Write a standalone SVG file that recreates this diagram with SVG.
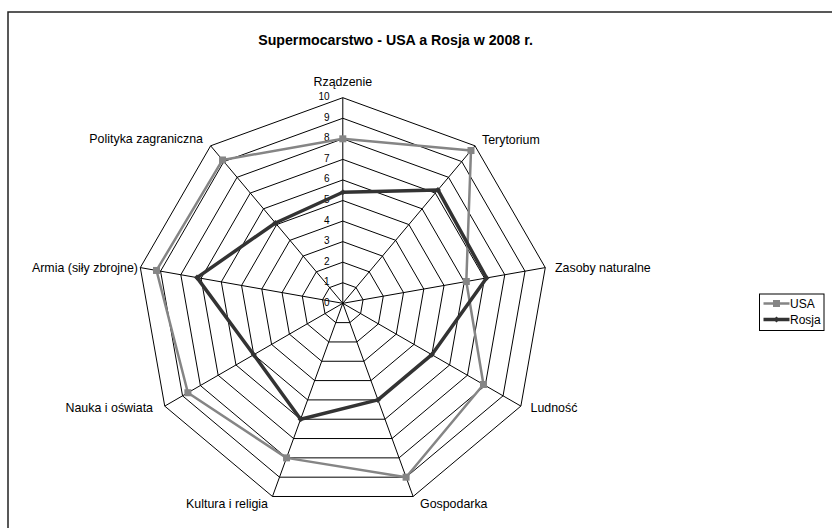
<svg xmlns="http://www.w3.org/2000/svg" width="832" height="528" viewBox="0 0 832 528">
<style>
text{font-family:"Liberation Sans",Arial,sans-serif;fill:#000}
.lbl{font-size:12.4px}
.num{font-size:10px;text-anchor:end}
.ring{fill:none;stroke:#000;stroke-width:1}
.usa{fill:none;stroke:#858585;stroke-width:2.5;stroke-linejoin:round}
.ros{fill:none;stroke:#333;stroke-width:3.5;stroke-linejoin:round}
.um{fill:#858585}
.rm{fill:#333}
</style>
<defs>
<rect id="sq" x="-3.5" y="-3.5" width="7" height="7" class="um"/>
<polygon id="dm" points="0,-3 3,0 0,3 -3,0" class="rm"/>
</defs>
<rect width="832" height="528" fill="#fff"/>
<path d="M8,528 V12 H832" fill="none" stroke="#222" stroke-width="1.5"/>
<text x="395.5" y="45" style="font-size:14.2px;font-weight:bold" text-anchor="middle">Supermocarstwo - USA a Rosja w 2008 r.</text>
<g id="grid" transform="translate(342.8,303.3)">
<polygon class="ring" points="0,-20.56 13.22,-15.75 20.25,-3.57 17.81,10.28 7.03,19.32 -7.03,19.32 -17.81,10.28 -20.25,-3.57 -13.22,-15.75"/>
<polygon class="ring" points="0,-41.12 26.43,-31.5 40.5,-7.14 35.61,20.56 14.06,38.64 -14.06,38.64 -35.61,20.56 -40.5,-7.14 -26.43,-31.5"/>
<polygon class="ring" points="0,-61.68 39.65,-47.25 60.74,-10.71 53.42,30.84 21.1,57.96 -21.1,57.96 -53.42,30.84 -60.74,-10.71 -39.65,-47.25"/>
<polygon class="ring" points="0,-82.24 52.86,-63 80.99,-14.28 71.22,41.12 28.13,77.28 -28.13,77.28 -71.22,41.12 -80.99,-14.28 -52.86,-63"/>
<polygon class="ring" points="0,-102.8 66.08,-78.75 101.24,-17.85 89.03,51.4 35.16,96.6 -35.16,96.6 -89.03,51.4 -101.24,-17.85 -66.08,-78.75"/>
<polygon class="ring" points="0,-123.36 79.29,-94.5 121.49,-21.42 106.83,61.68 42.19,115.92 -42.19,115.92 -106.83,61.68 -121.49,-21.42 -79.29,-94.5"/>
<polygon class="ring" points="0,-143.92 92.51,-110.25 141.73,-24.99 124.64,71.96 49.22,135.24 -49.22,135.24 -124.64,71.96 -141.73,-24.99 -92.51,-110.25"/>
<polygon class="ring" points="0,-164.48 105.73,-126 161.98,-28.56 142.44,82.24 56.26,154.56 -56.26,154.56 -142.44,82.24 -161.98,-28.56 -105.73,-126"/>
<polygon class="ring" points="0,-185.04 118.94,-141.75 182.23,-32.13 160.25,92.52 63.29,173.88 -63.29,173.88 -160.25,92.52 -182.23,-32.13 -118.94,-141.75"/>
<polygon class="ring" points="0,-205.6 132.16,-157.5 202.48,-35.7 178.06,102.8 70.32,193.2 -70.32,193.2 -178.06,102.8 -202.48,-35.7 -132.16,-157.5"/>
<path class="ring" d="M0,0 V-205.6 M0,0 L132.16,-157.5 M0,0 L202.48,-35.7 M0,0 L178.06,102.8 M0,0 L70.32,193.2 M0,0 L-70.32,193.2 M0,0 L-178.06,102.8 M0,0 L-202.48,-35.7 M0,0 L-132.16,-157.5"/>
<text class="num" x="-13.3" y="2.5">0</text>
<text class="num" x="-13.3" y="-18.06">1</text>
<text class="num" x="-13.3" y="-38.62">2</text>
<text class="num" x="-13.3" y="-59.18">3</text>
<text class="num" x="-13.3" y="-79.74">4</text>
<text class="num" x="-13.3" y="-100.3">5</text>
<text class="num" x="-13.3" y="-120.86">6</text>
<text class="num" x="-13.3" y="-141.42">7</text>
<text class="num" x="-13.3" y="-161.98">8</text>
<text class="num" x="-13.3" y="-182.54">9</text>
<text class="num" x="-13.3" y="-203.1">10</text>
</g>
<g id="series-usa" transform="translate(342.8,303.3)">
<polygon class="usa" points="0,-164.48 128.19,-152.77 123.51,-21.78 140.66,81.21 63.29,173.88 -56.26,154.56 -154.91,89.44 -186.3,-32.85 -120.26,-143.32"/>
<use href="#sq" x="0" y="-164.48"/>
<use href="#sq" x="128.19" y="-152.77"/>
<use href="#sq" x="123.51" y="-21.78"/>
<use href="#sq" x="140.66" y="81.21"/>
<use href="#sq" x="63.29" y="173.88"/>
<use href="#sq" x="-56.26" y="154.56"/>
<use href="#sq" x="-154.91" y="89.44"/>
<use href="#sq" x="-186.3" y="-32.85"/>
<use href="#sq" x="-120.26" y="-143.32"/>
</g>
<g id="series-rosja" transform="translate(342.8,303.3)">
<polygon class="ros" points="0,-111.02 95.15,-113.4 143.76,-25.35 89.03,51.4 35.16,96.6 -42.19,115.92 -89.03,51.4 -145.78,-25.7 -67.4,-80.33"/>
<use href="#dm" x="0" y="-111.02"/>
<use href="#dm" x="95.15" y="-113.4"/>
<use href="#dm" x="143.76" y="-25.35"/>
<use href="#dm" x="89.03" y="51.4"/>
<use href="#dm" x="35.16" y="96.6"/>
<use href="#dm" x="-42.19" y="115.92"/>
<use href="#dm" x="-89.03" y="51.4"/>
<use href="#dm" x="-145.78" y="-25.7"/>
<use href="#dm" x="-67.4" y="-80.33"/>
</g>
<g id="axis-labels">
<text class="lbl" x="342.8" y="86" text-anchor="middle">Rządzenie</text>
<text class="lbl" x="482" y="144">Terytorium</text>
<text class="lbl" x="555" y="272">Zasoby naturalne</text>
<text class="lbl" x="530.5" y="412">Ludność</text>
<text class="lbl" x="420" y="508">Gospodarka</text>
<text class="lbl" x="268" y="508" text-anchor="end">Kultura i religia</text>
<text class="lbl" x="153" y="412" text-anchor="end">Nauka i oświata</text>
<text class="lbl" x="138" y="272" text-anchor="end">Armia (siły zbrojne)</text>
<text class="lbl" x="203" y="143" text-anchor="end">Polityka zagraniczna</text>
</g>
<g id="legend">
<rect x="759.5" y="294" width="64.5" height="36.5" fill="#fff" stroke="#000" stroke-width="1"/>
<line x1="763.5" y1="303.5" x2="789.5" y2="303.5" stroke="#858585" stroke-width="2.5"/>
<use href="#sq" x="776.5" y="303.5"/>
<text class="lbl" x="790" y="307.5" style="font-size:12px">USA</text>
<line x1="763.5" y1="319.5" x2="789.5" y2="319.5" stroke="#333" stroke-width="3.5"/>
<use href="#dm" x="776.5" y="319.5"/>
<text class="lbl" x="790" y="323.5" style="font-size:12px">Rosja</text>
</g>
</svg>
